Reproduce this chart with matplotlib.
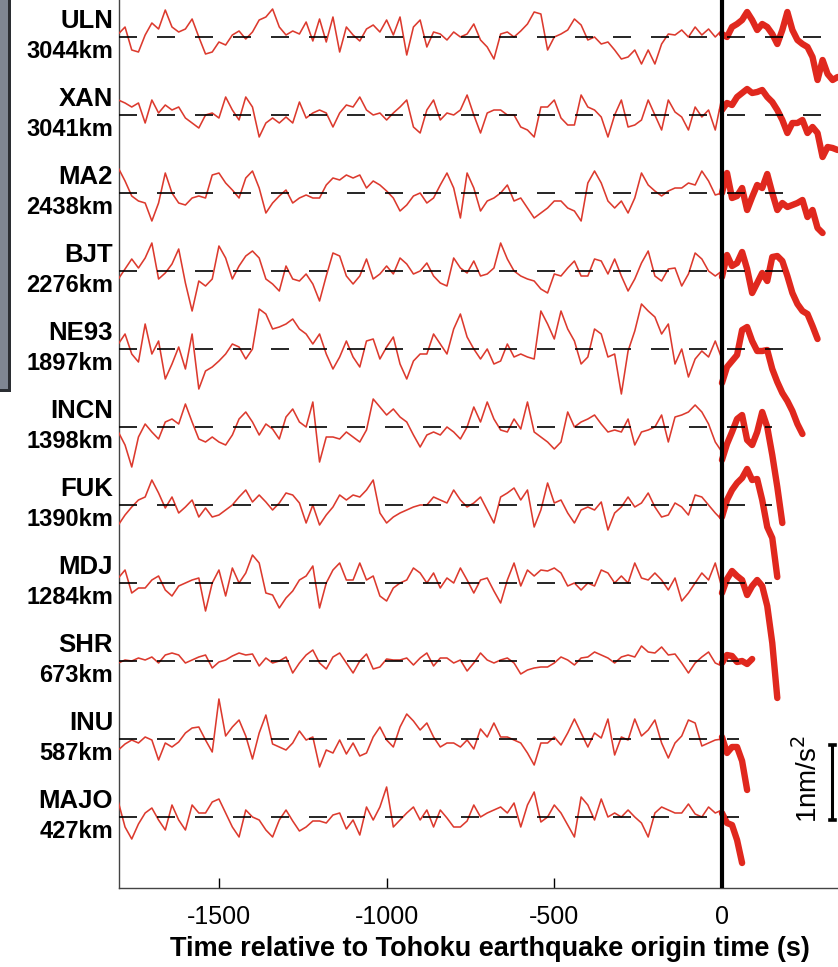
import numpy as np
import matplotlib
matplotlib.use("Agg")
import matplotlib.pyplot as plt
from matplotlib.patches import Rectangle

# ---------------- data ----------------
stations = ["ULN", "XAN", "MA2", "BJT", "NE93", "INCN", "FUK", "MDJ", "SHR", "INU", "MAJO"]
distances = ["3044km", "3041km", "2438km", "2276km", "1897km", "1398km",
             "1390km", "1284km", "673km", "587km", "427km"]

# pre-event samples every 20 s from -1800 s to 0 s
# (values as read, in units of 1/75 nm/s^2)
t_pre = np.arange(-1800, 1, 20)
pre = {
 "ULN": [3,10,-13,-15,2,14,8,27,10,5,8,18,0,-17,-15,-5,-8,2,6,-2,5,17,20,28,10,2,6,3,15,-4,18,-5,20,-15,10,2,-4,8,12,5,17,2,20,-18,10,17,
         -10,5,3,-3,5,0,3,13,-3,-10,-22,3,5,0,6,13,25,23,-13,0,3,7,18,12,-3,0,-7,-5,-13,-22,-20,-13,-27,-13,-27,-7,3,2,7,0,10,2,8,0,7],
 "XAN": [15,12,8,12,-8,15,2,10,5,8,-3,-8,-13,0,2,-3,18,5,-5,18,8,-22,-8,-3,-8,-2,-8,13,-3,2,5,2,-12,2,10,8,18,5,0,2,-5,2,8,15,-12,-18,
         5,15,-5,2,0,5,20,0,-18,2,5,5,0,0,-12,-15,-22,8,8,15,-3,-10,-10,20,8,5,-2,-22,0,15,-12,-10,-5,15,0,-15,15,3,-2,-15,8,-2,5,-15,18],
 "MA2": [25,12,-3,-8,-10,-28,-10,20,0,-10,-12,-5,-3,-5,18,20,10,3,-5,15,22,5,-20,-10,-3,3,-10,-5,-2,-5,-5,8,15,13,18,15,18,5,12,8,2,-5,-18,-12,-3,0,
         -10,-5,8,20,5,-25,20,5,-18,-8,-5,0,8,-8,-5,-15,-25,-20,-15,-8,-8,-15,-18,-28,10,22,10,-8,-15,-8,-20,-5,20,8,2,-3,2,5,5,10,8,22,12,-2,0],
 "BJT": [-8,2,12,3,13,28,-8,-2,7,22,-12,-40,-10,-15,-8,25,13,-8,5,15,20,13,-8,-13,-20,5,-8,-10,-3,-13,-30,-5,18,15,-5,-13,-5,12,-8,-3,5,-3,13,7,-3,0,
         8,-5,-12,-15,13,3,-2,10,-5,-3,3,28,12,0,-5,-8,-10,-18,-22,-3,-5,3,10,-5,-5,12,10,-3,12,-5,-20,-8,8,20,-5,-10,2,3,-15,-3,18,12,0,-5,0],
 "NE93": [5,15,-5,-13,25,-5,8,-30,-15,2,-20,15,-40,-22,-18,-12,-5,5,2,-10,0,40,35,20,22,25,30,20,15,5,15,-5,-20,-8,8,-8,-18,8,10,-10,2,12,-15,-30,-12,-5,
          -5,15,5,-5,20,35,12,0,-10,0,-15,-12,5,-8,-5,-8,-10,38,25,10,38,20,8,-15,-8,20,15,-8,-5,-45,-2,18,45,38,32,15,25,-15,0,-28,-10,-2,-8,8,-10],
 "INCN": [-5,-18,-40,-10,3,-5,-12,5,8,3,23,5,-12,-15,-10,-15,-18,-8,8,15,5,-8,3,-2,-12,10,18,5,0,25,-35,-10,-10,-12,-5,-10,-15,-3,28,20,12,18,10,5,-8,-20,
          -8,-5,-8,0,-5,-12,0,20,5,25,8,-3,-5,8,-2,25,-5,-10,-15,-22,-15,15,0,5,8,12,3,-5,-3,-5,8,-18,-5,-3,0,12,-15,10,12,15,22,15,3,-15,-25],
 "FUK": [-20,-10,-2,5,8,25,12,-3,8,-8,-2,5,-12,-3,-12,-10,-5,0,8,15,3,10,3,-5,2,12,10,2,-18,0,-20,-10,-2,10,5,10,8,15,25,-8,-18,-12,-8,-5,-2,0,
         0,8,5,2,15,5,-2,2,8,-5,-18,8,12,17,5,15,-22,-5,22,2,5,-8,-18,-5,-2,-5,3,-25,-8,-2,8,-2,2,12,-2,-12,-10,2,-2,-10,10,8,0,-8,-15],
 "MDJ": [5,13,-10,-5,-5,3,7,-7,-13,-3,0,3,5,-28,0,13,-13,15,0,10,28,20,-10,-12,-25,-15,-8,3,7,17,-25,0,13,20,3,3,20,3,7,-13,-18,-5,0,3,15,10,
         0,10,-5,5,0,15,3,-10,3,5,-8,-20,3,20,-3,13,7,13,12,15,10,-3,0,-7,0,-3,13,10,0,7,0,20,5,3,10,3,-7,5,-18,-10,0,10,3,20,-5],
 "SHR": [-2,1,0,3,1,4,-2,6,8,6,-2,1,4,6,-7,-1,1,5,8,6,7,-5,3,-2,0,4,-12,-2,6,11,-2,-8,4,8,-2,-12,0,7,-8,-6,2,1,1,3,-4,3,
         8,-5,3,3,-2,1,-10,-2,8,1,-2,1,3,-2,-13,-9,-7,-6,-6,-2,4,1,-4,3,4,9,6,3,-2,4,6,4,15,9,8,14,6,7,-2,-12,-2,4,9,-2,-5],
 "INU": [-11,-5,-1,-4,2,-1,-21,-4,-8,-3,6,11,12,-1,-13,40,3,12,19,3,-20,6,24,-5,-8,-11,-4,8,-1,2,-28,-11,-14,-1,-15,-4,-17,-14,2,12,-1,-8,12,25,18,9,
         16,2,-8,-4,-4,-8,-1,-10,10,2,16,2,2,-1,-4,-14,-26,-4,-4,2,-6,6,20,6,-8,6,1,20,-16,2,-1,20,3,9,19,-4,-19,-4,3,19,16,-7,-4,-1,0],
 "MAJO": [15,-10,-22,-7,4,9,-3,-13,12,-3,-13,12,4,4,15,18,4,-10,-20,7,0,-3,-13,-20,-3,7,-4,-14,-10,-4,-4,-6,2,4,-12,-3,-18,10,-3,10,30,-10,-3,4,10,-3,
          7,-10,7,-1,-10,-10,-4,12,0,4,7,10,4,14,-10,12,25,-5,0,12,4,-8,-20,20,12,-3,18,0,4,0,7,0,-6,-20,4,10,7,4,4,13,3,0,10,4,7],
}

# post-event samples every 15 s from 0 s (same units)
t_post_step = 15
post = {
 "ULN": [3,0,10,13,17,25,17,7,13,10,3,-7,7,25,7,-3,-7,-10,-20,-43,-23,-37,-43,-40],
 "XAN": [5,12,10,18,22,26,22,23,25,18,13,5,-5,-18,-8,-8,-5,-18,-12,-18,-42,-32,-33,-35],
 "MA2": [0,20,-5,-3,5,-17,-4,8,5,19,0,-17,-10,-14,-12,-10,-7,-24,-17,-35,-40],
 "BJT": [-6,16,5,8,19,2,-22,-12,-2,-10,14,15,10,-5,-22,-33,-40,-43,-55,-68],
 "NE93": [-34,-18,-12,-6,19,22,8,-2,-2,-1,-20,-33,-44,-52,-62,-75,-85],
 "INCN": [-33,-17,-5,8,12,-13,-18,-5,15,0,-28,-60,-96],
 "FUK": [-12,5,15,22,27,36,25,26,5,-22,-33,-72],
 "MDJ": [-10,4,12,7,3,-12,-3,3,-3,-23,-60,-115],
 "SHR": [-2,6,5,-1,0,-3,2],
 "INU": [2,-14,-8,-8,-22,-51],
 "MAJO": [4,-6,-8,-23,-46],
}

# time up to which each baseline is drawn (s)
dash_end = [346, 346, 240, 240, 240, 150, 150, 150, 50, 50, 50]

# ---------------- layout ----------------
W, H = 838, 967
PX = 75.0                      # pixels per 1 nm/s^2
fig = plt.figure(figsize=(W / 100, H / 100), dpi=100)
ax = fig.add_axes([119 / W, (H - 888) / H, (W - 119) / W, 888 / H])
ax.set_xlim(-1798, 346)
ax.set_ylim(0, 888 / PX)

unit = 1.0 / PX
base0 = (888 - 37) / PX
step = 78 / PX
red = "#dc3a2e"
lab_font = ["Liberation Sans", "DejaVu Sans"]

for i, st in enumerate(stations):
    b = base0 - step * i
    yp = b + np.array(pre[st]) * unit
    ax.plot(t_pre, yp, color=red, lw=1.15, solid_joinstyle="round", zorder=3)
    pv = np.array(post[st]) * unit
    tp = np.arange(len(pv)) * t_post_step
    ax.plot(tp, b + pv, color="#e0281e", lw=4.6, solid_capstyle="round",
            solid_joinstyle="round", zorder=4)
    ax.plot([-1798, dash_end[i]], [b, b], color="black", lw=1.2,
            dashes=(10.8, 12.0), zorder=5)
    ypx = 888 - b * PX  # pixel row of the baseline
    fig.text(113 / W, 1 - (ypx - 16) / H, st, ha="right", va="center",
             fontsize=18.5, fontweight="bold", family=lab_font)
    fig.text(113 / W, 1 - (ypx + 14) / H, distances[i], ha="right", va="center",
             fontsize=17, fontweight="bold", family=lab_font)

ax.axvline(0, color="black", lw=3.0, zorder=6)

# scale bar 1 nm/s^2
sb_x = 329
sb_y0 = (888 - 820) / PX
ax.plot([sb_x, sb_x], [sb_y0, sb_y0 + 1.0], color="black", lw=2.2,
        solid_capstyle="butt", zorder=6)
for yy in (sb_y0, sb_y0 + 1.0):
    ax.plot([sb_x - 7, sb_x + 7], [yy, yy], color="black", lw=2.6, zorder=6)
ax.text(257, (888 - 779) / PX, "1nm/s$^2$", rotation=90, ha="center", va="center",
        fontsize=20, family=lab_font)

for s in ("top", "right"):
    ax.spines[s].set_visible(False)
ax.spines["left"].set_color("#444444")
ax.spines["bottom"].set_color("#444444")
ax.spines["left"].set_linewidth(1.0)
ax.spines["bottom"].set_linewidth(1.0)
ax.set_yticks([])
ax.set_xticks([-1500, -1000, -500, 0])
ax.set_xticklabels(["-1500", "-1000", "-500", "0"])
ax.tick_params(axis="x", direction="in", length=7, width=1.0, pad=12,
               labelsize=18)
for lab in ax.get_xticklabels():
    lab.set_family(lab_font)
fig.text(490 / W, 1 - 949 / H, "Time relative to Tohoku earthquake origin time (s)",
         ha="center", va="center", fontsize=19.5, fontweight="bold", family=lab_font)

# partial map inset at the left edge
fig.patches.append(Rectangle((0, 1 - 392 / H), 9 / W, 392 / H, transform=fig.transFigure,
                             facecolor="#7f8692", edgecolor="none", zorder=0))
fig.patches.append(Rectangle((8 / W, 1 - 392 / H), 3 / W, 392 / H, transform=fig.transFigure,
                             facecolor="#2b2e33", edgecolor="none", zorder=1))
fig.patches.append(Rectangle((0, 1 - 392 / H), 11 / W, 3 / H, transform=fig.transFigure,
                             facecolor="#2b2e33", edgecolor="none", zorder=1))

fig.savefig("out.png", dpi=100)
